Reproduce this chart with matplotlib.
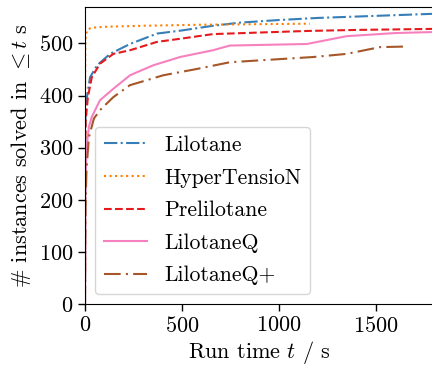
import matplotlib
matplotlib.use("Agg")
import matplotlib.pyplot as plt

plt.rcParams['font.family'] = 'serif'
plt.rcParams['font.serif'] = ['cmr10']
plt.rcParams['mathtext.fontset'] = 'cm'
plt.rcParams['axes.unicode_minus'] = False
plt.rcParams['axes.formatter.use_mathtext'] = True

names = ["Lilotane", "HyperTensioN", "Prelilotane", "LilotaneQ", "LilotaneQ+"]

t_lilotane = [0, 1, 3, 10, 26, 62, 129, 232, 371, 500, 660, 800, 1000, 1200, 1500, 1800]
v_lilotane = [0, 300, 370, 397, 435, 458, 480, 499, 519, 525, 534, 540, 545, 549, 553, 557]

t_hyper = [0, 1, 3, 10, 30, 100, 300, 600, 900, 1160]
v_hyper = [0, 480, 510, 525, 530, 532, 534, 536, 537, 538]

t_prelilotane = [0, 1, 3, 15, 35, 77, 146, 232, 371, 490, 660, 900, 1144, 1400, 1800]
v_prelilotane = [0, 280, 350, 397, 435, 461, 480, 487, 503, 509, 518, 521, 524, 526, 528]

t_lilotaneq = [0, 2, 8, 20, 35, 77, 146, 232, 351, 490, 660, 747, 1144, 1349, 1600, 1800]
v_lilotaneq = [0, 220, 300, 340, 359, 391, 413, 439, 458, 474, 487, 496, 499, 514, 520, 522]

t_lilotaneqp = [0, 2, 8, 20, 46, 77, 146, 232, 404, 576, 747, 1177, 1349, 1521, 1640]
v_lilotaneqp = [0, 180, 260, 320, 356, 372, 397, 420, 439, 451, 464, 474, 480, 493, 494]

fig = plt.figure(figsize=(4.32, 3.68), dpi=100)
ax = fig.add_axes([85/432, 64/368, 349/432, 297/368])

ax.plot(t_lilotane, v_lilotane, color='#377eb8', lw=1.5, linestyle=(0, (6.4, 1.6, 1, 1.6)), label=names[0])
ax.plot(t_hyper, v_hyper, color='#ff7f00', lw=1.5, linestyle=(0, (1, 1.65)), label=names[1])
ax.plot(t_prelilotane, v_prelilotane, color='#e41a1c', lw=1.5, linestyle=(0, (3.7, 1.6)), label=names[2])
ax.plot(t_lilotaneq, v_lilotaneq, color='#f781bf', lw=1.5, linestyle='-', label=names[3])
ax.plot(t_lilotaneqp, v_lilotaneqp, color='#a65628', lw=1.5, linestyle=(0, (8, 2.5, 1, 2.5)), label=names[4])

ax.set_xlim(0, 1800)
ax.set_ylim(0, 570)
ax.set_xticks([0, 500, 1000, 1500])
ax.set_yticks([0, 100, 200, 300, 400, 500])
ax.tick_params(labelsize=16, length=5, width=1)
ax.set_xlabel('Run time $t$ / s', fontsize=16, labelpad=2)
ax.set_ylabel(r'# instances solved in $\leq t$ s', fontsize=16, labelpad=4)
ax.legend(loc='lower left', fontsize=15.7, framealpha=0.8, borderaxespad=0.45,
          labelspacing=0.6)

fig.savefig('out.png', dpi=100)
